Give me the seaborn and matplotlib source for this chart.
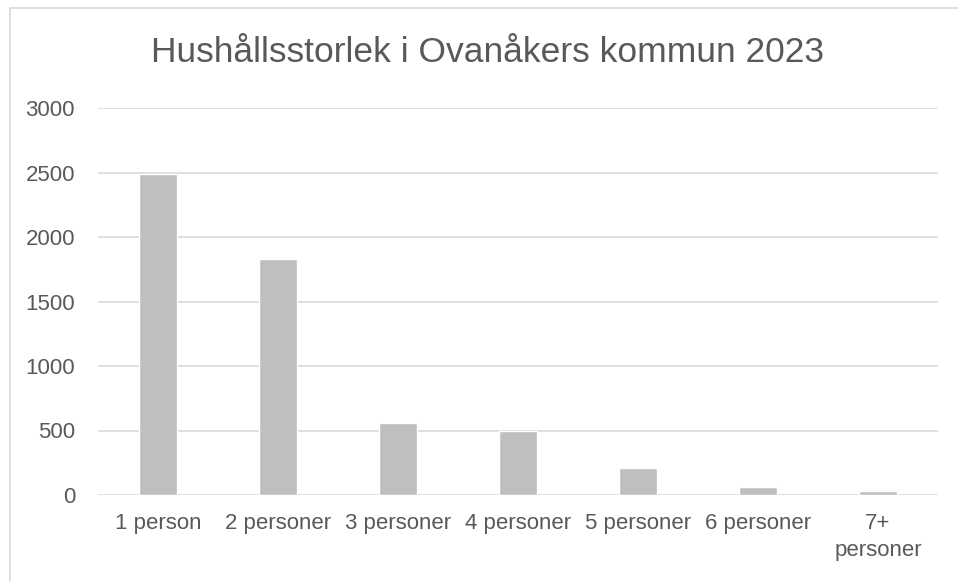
import matplotlib
matplotlib.use('Agg')
import matplotlib.pyplot as plt
import seaborn as sns
import pandas as pd
from matplotlib.lines import Line2D

# data
categories = ['1 person', '2 personer', '3 personer', '4 personer',
              '5 personer', '6 personer', '7+ personer']
tick_labels = ['1 person', '2 personer', '3 personer', '4 personer',
               '5 personer', '6 personer', '7+\npersoner']
households = [2487, 1833, 557, 495, 210, 65, 33]

df = pd.DataFrame({'kategori': categories, 'antal': households})

sns.set_theme(style='white')
plt.rcParams['font.family'] = ['Liberation Sans', 'DejaVu Sans']

fig = plt.figure(figsize=(9.58, 5.81), dpi=100)
ax = fig.add_axes([98/958, 1 - 495/581, 840/958, 387/581])

sns.barplot(data=df, x='kategori', y='antal', color='#BFBFBF',
            width=0.32, saturation=1, ax=ax, zorder=3)

ax.set_ylim(0, 3000)
ax.set_yticks(range(0, 3001, 500))
ax.set_xlim(-0.5, len(categories) - 0.5)
ax.yaxis.grid(True, color='#D9D9D9', linewidth=1.2, zorder=0)
for s in ax.spines.values():
    s.set_visible(False)
ax.set_xlabel('')
ax.set_ylabel('')
ax.set_xticks(range(len(categories)))
ax.set_xticklabels(tick_labels, linespacing=1.35)
ax.tick_params(axis='both', length=0, labelsize=16, colors='#595959')
ax.tick_params(axis='y', pad=16.5)
ax.tick_params(axis='x', pad=13)

fig.text(488/958, 1 - 52/581, 'Hushållsstorlek i Ovanåkers kommun 2023',
         ha='center', va='center', fontsize=25.5, color='#595959')

# outer chart frame (left and top edges visible)
fig.add_artist(Line2D([10/958, 10/958], [0, 1 - 8/581],
                      transform=fig.transFigure, color='#D9D9D9', lw=1.2))
fig.add_artist(Line2D([10/958, 1], [1 - 8/581, 1 - 8/581],
                      transform=fig.transFigure, color='#D9D9D9', lw=1.2))

fig.savefig('out.png', dpi=100, facecolor='white')
